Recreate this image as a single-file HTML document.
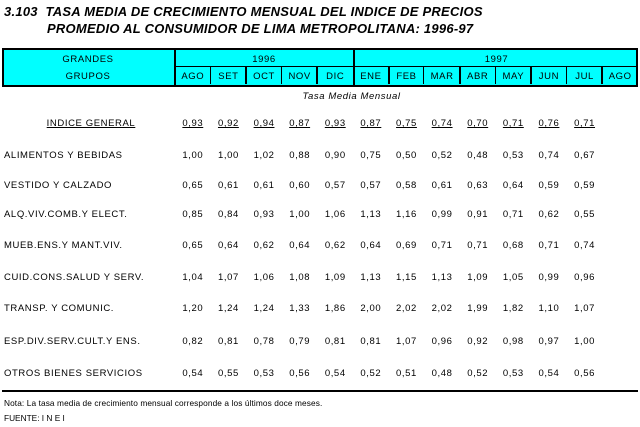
<!DOCTYPE html>
<html><head><meta charset="utf-8"><style>
body{margin:0;width:640px;height:427px;background:#fff;position:relative;overflow:hidden;font-family:"Liberation Sans",Arial,sans-serif;color:#000}
.a{position:absolute;white-space:nowrap}
.t{font-weight:bold;font-style:italic;font-size:13px;letter-spacing:0.25px}
.s{font-size:9.5px;letter-spacing:0.6px}
.c{text-align:center}
</style></head><body>
<div class="a t" style="left:4px;top:4px">3.103&nbsp; TASA MEDIA DE CRECIMIENTO MENSUAL DEL INDICE DE PRECIOS</div>
<div class="a t" style="left:47px;top:21px">PROMEDIO AL CONSUMIDOR DE LIMA METROPOLITANA: 1996-97</div>
<div class="a" style="left:2px;top:48px;width:636px;height:35px;background:#00ffff;border-top:2px solid #000;border-bottom:2px solid #000"></div>
<div id="g"></div>
<script>
var g=document.getElementById('g'),h='';
function box(x,y,w,hh,st){h+='<div class="a" style="left:'+x+'px;top:'+y+'px;width:'+w+'px;height:'+hh+'px;'+st+'"></div>';}
function txt(x,y,w,s,cls,st){h+='<div class="a s '+(cls||'')+'" style="left:'+x+'px;top:'+y+'px;width:'+w+'px;'+(st||'')+'">'+s+'</div>';}
box(2,48,0,37,'border-left:2px solid #000');box(636,48,0,37,'border-left:2px solid #000');
box(174,48,0,37,'border-left:2px solid #000');
var cw=(638-175)/13;
box(175,66,463,0,'border-top:1px solid #000');
box(353,48,0,37,'border-left:2px solid #000');
for(var i=1;i<13;i++){if(i==5)continue;var x=Math.round(175+i*cw)-1;box(x,67,0,17,'border-left:'+(i%2?1:2)+'px solid #000');}
txt(2,54,172,'GRANDES','c');txt(2,71,172,'GRUPOS','c');
txt(175,54,178,'1996','c');txt(355,54,283,'1997','c');
var m=['AGO','SET','OCT','NOV','DIC','ENE','FEB','MAR','ABR','MAY','JUN','JUL','AGO'];
for(var i=0;i<13;i++)txt(175+i*cw,71,cw,m[i],'c');
txt(175,91,463,'<i>Tasa Media Mensual</i>','c','padding-right:110px;box-sizing:border-box');
var rows=[['INDICE GENERAL','0,93 0,92 0,94 0,87 0,93 0,87 0,75 0,74 0,70 0,71 0,76 0,71'],
['ALIMENTOS Y BEBIDAS','1,00 1,00 1,02 0,88 0,90 0,75 0,50 0,52 0,48 0,53 0,74 0,67'],
['VESTIDO Y CALZADO','0,65 0,61 0,61 0,60 0,57 0,57 0,58 0,61 0,63 0,64 0,59 0,59'],
['ALQ.VIV.COMB.Y ELECT.','0,85 0,84 0,93 1,00 1,06 1,13 1,16 0,99 0,91 0,71 0,62 0,55'],
['MUEB.ENS.Y MANT.VIV.','0,65 0,64 0,62 0,64 0,62 0,64 0,69 0,71 0,71 0,68 0,71 0,74'],
['CUID.CONS.SALUD Y SERV.','1,04 1,07 1,06 1,08 1,09 1,13 1,15 1,13 1,09 1,05 0,99 0,96'],
['TRANSP. Y COMUNIC.','1,20 1,24 1,24 1,33 1,86 2,00 2,02 2,02 1,99 1,82 1,10 1,07'],
['ESP.DIV.SERV.CULT.Y ENS.','0,82 0,81 0,78 0,79 0,81 0,81 1,07 0,96 0,92 0,98 0,97 1,00'],
['OTROS BIENES SERVICIOS','0,54 0,55 0,53 0,56 0,54 0,52 0,51 0,48 0,52 0,53 0,54 0,56']];
var ys=[118,150,180,209,240,272,303,336,368];
for(var r=0;r<rows.length;r++){var y=ys[r];
 if(r==0)txt(2,y,172,'<u>'+rows[r][0]+'</u>','c','padding-left:6px;box-sizing:border-box');else txt(4,y,170,rows[r][0]);
 var v=rows[r][1].split(' ');for(var i=0;i<12;i++)txt(175+i*cw,y,cw,r==0?'<u>'+v[i]+'</u>':v[i],'c');}
box(2,390,636,0,'border-top:2px solid #000');
h+='<div class="a" style="left:4px;top:398px;font-size:8.3px;letter-spacing:0.1px">Nota: La tasa media de crecimiento mensual corresponde a los últimos doce meses.</div>';
h+='<div class="a" style="left:4px;top:413px;font-size:8.3px">FUENTE: I N E I</div>';
g.innerHTML=h;
</script>
</body></html>
